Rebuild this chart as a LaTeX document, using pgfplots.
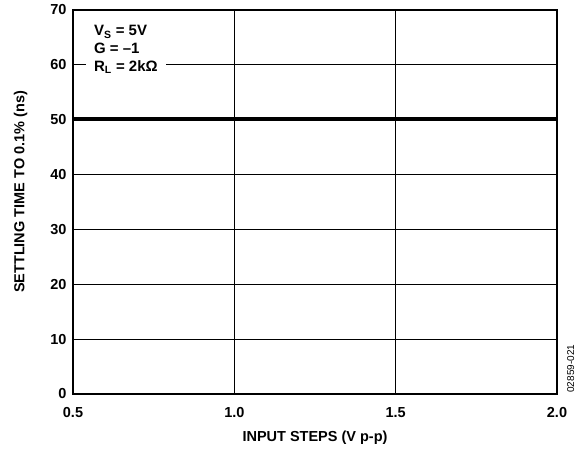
\documentclass[border=0pt]{standalone}
\usepackage{fontspec}
\setmainfont{Liberation Sans}
\usepackage{pgfplots}
\pgfplotsset{compat=1.18}

\begin{document}
\begin{tikzpicture}
\begin{axis}[
  scale only axis,
  width=484pt, height=384pt,
  xmin=0.5, xmax=2.0, ymin=0, ymax=70,
  xtick={0.5,1.0,1.5,2.0},
  ytick={0,10,...,70},
  /pgf/number format/assume math mode=true,
  tick label style={font=\fontsize{14.5}{16}\selectfont\bfseries},
  xticklabel style={yshift=-10pt, /pgf/number format/fixed,
    /pgf/number format/fixed zerofill, /pgf/number format/precision=1},
  yticklabel style={xshift=-3pt},
  tick style={draw=none},
  grid=major,
  major grid style={black, line width=0.8pt},
  axis line style={line width=1.3pt},
  xlabel={INPUT STEPS (V p-p)},
  ylabel={SETTLING TIME TO 0.1\% (ns)},
  label style={font=\fontsize{14.5}{16}\selectfont\bfseries},
  xlabel style={at={(axis description cs:0.5,-0.115)}, anchor=center},
  ylabel style={at={(axis description cs:-0.108,0.526)}, anchor=center},
  clip=false,
]
\addplot[black, line width=3.8pt] coordinates {(0.5,50.2) (2.0,50.2)};
\node[fill=white, anchor=north west, align=left, inner xsep=8pt, inner ysep=2pt,
      font=\fontsize{15}{18}\selectfont\bfseries]
  at (axis cs:0.540,67.6) {V\textsubscript{S} = 5V\\G = –1\\R\textsubscript{L} = 2kΩ};
\node[rotate=90, anchor=north west, inner sep=0pt, font=\fontsize{10}{11}\selectfont]
  at (axis description cs:1.0207,0.003) {02859-021};
\end{axis}
\path[use as bounding box] (-73pt,-58pt) rectangle (504pt,394pt);
\end{tikzpicture}
\end{document}
